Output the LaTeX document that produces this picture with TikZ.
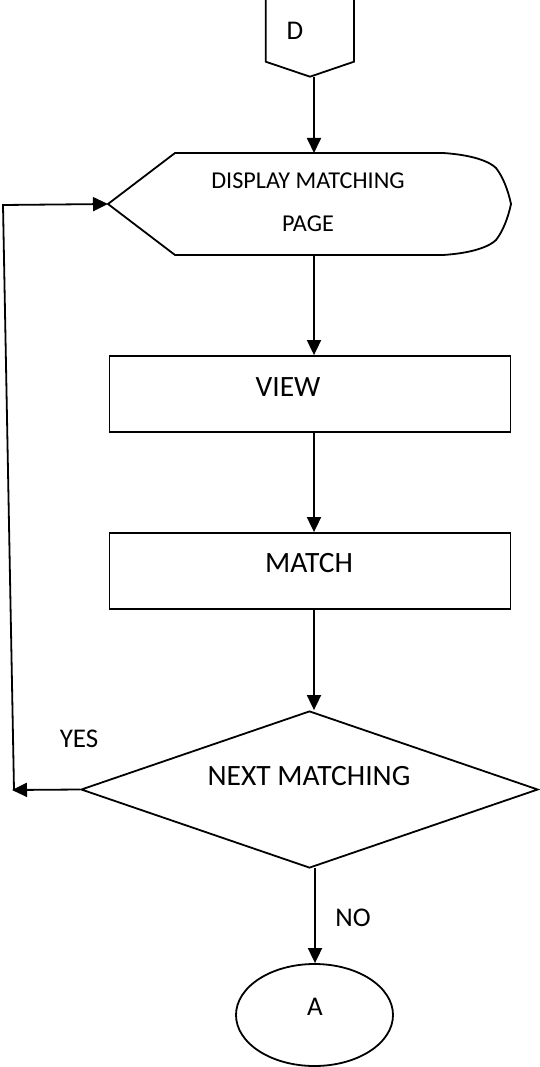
\documentclass[tikz,border=0pt]{standalone}
\usepackage{fontspec}
\setmainfont{Carlito}
\usetikzlibrary{arrows.meta,shapes.geometric}
\begin{document}
\begin{tikzpicture}[x=1pt,y=-1pt,
  shp/.style={draw=black,line width=1.8pt},
  arr/.style={draw=black,line width=1.8pt,-{Triangle[length=15pt,width=14pt]}},
  big/.style={inner sep=0pt,font=\fontsize{29.5}{34}\selectfont},
  mid/.style={inner sep=0pt,font=\fontsize{27}{32}\selectfont},
  small/.style={inner sep=0pt,align=center,font=\fontsize{24.2}{43}\selectfont}]
\useasboundingbox (0,0) rectangle (539,1067);
% off-page connector D
\coordinate (dl) at (265.7,61.7);
\coordinate (dtip) at (310,76.7);
\coordinate (dr) at (354,61.7);
\draw[shp,line join=miter] (265.7,-6) -- (dl) -- (dtip) -- (dr) -- (354,-6);
\node[mid] (dtxt) at (295,31) {D};
\coordinate (dout) at (314,77);
% display shape
\coordinate (dispW) at (108,204);
\coordinate (dispN) at (314,153);
\coordinate (dispS) at (314,255);
\draw[shp,line join=miter] (dispW) -- (175,153) -- (443,153)
   .. controls (474,155) and (490,162) .. (496,168)
   .. controls (503,177) and (508,190) .. (511,204)
   .. controls (508,218) and (503,231) .. (496,240)
   .. controls (490,246) and (474,253) .. (443,255)
   -- (175,255) -- cycle;
\node[small] (disptxt) at (308,202) {DISPLAY MATCHING\\PAGE};
% process boxes
\node[shp,rectangle,minimum width=401pt,minimum height=76pt,inner sep=0pt] (view) at (310,394) {};
\node[big] (viewtxt) at (288,387) {VIEW};
\node[shp,rectangle,minimum width=401pt,minimum height=76pt,inner sep=0pt] (match) at (310,571) {};
\node[big] (matchtxt) at (309,563) {MATCH};
% decision
\node[shp,diamond,aspect=2.91,minimum width=457pt,minimum height=157pt,inner sep=0pt] (dec) at (309.5,789.5) {};
\node[big] (dectxt) at (309,776) {NEXT MATCHING};
% terminal A
\node[shp,ellipse,minimum width=157pt,minimum height=102pt,inner sep=0pt] (term) at (314.5,1015) {};
\node[mid] (atxt) at (315,1007) {A};
% connectors
\draw[arr] (dout) -- (dispN);
\draw[arr] (dispS) -- (view.north -| dispS);
\draw[arr] (view.south -| dispS) -- (match.north -| dispS);
\draw[arr] (match.south -| dispS) -- (dec.north -| dispS);
\coordinate (noS) at (315,868);
\draw[arr] (noS) -- (term.north -| noS);
\coordinate (yesend) at (12,790);
\coordinate (loopbot) at (14,790);
\coordinate (looptop) at (3,205);
\draw[arr] (dec.west) -- (yesend);
\draw[arr] (loopbot) -- (looptop) -- (dispW);
\node[mid] (yes) at (79,739) {YES};
\node[mid] (no) at (353,918) {NO};
\end{tikzpicture}
\end{document}
